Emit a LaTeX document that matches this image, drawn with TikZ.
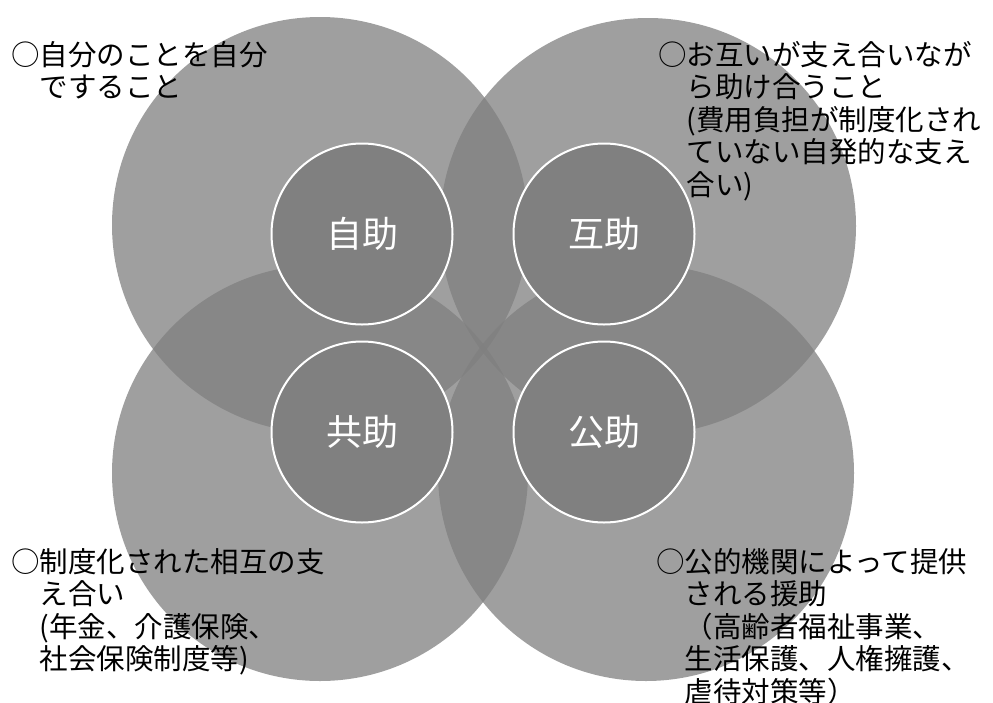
\documentclass[tikz,border=0pt]{standalone}
\usepackage{fontspec}
\newfontfamily\jp{Noto Sans CJK JP}
\definecolor{bigc}{HTML}{808080}
\definecolor{corec}{HTML}{808080}
\begin{document}
\begin{tikzpicture}[x=1pt,y=-1pt,
  big/.style={circle, minimum size=416pt, inner sep=0pt, fill=bigc, fill opacity=0.75, draw=none},
  core/.style={circle, fill=corec, draw=white, line width=2pt, minimum size=181pt, inner sep=0pt, text=white, font=\jp\fontsize{36}{40}\selectfont},
  desc/.style={anchor=north west, align=left, inner sep=0pt, text=black, font=\jp\fontsize{28.5}{32.5}\selectfont}]
\useasboundingbox[fill=white] (0,0) rectangle (993,702);
% large circles
\node[big] (c1) at (320,225) {};
\node[big] (c2) at (648,226) {};
\node[big] (c3) at (320,473) {};
\node[big] (c4) at (646,473) {};
% core circles
\node[core] (k1) at (362,234) {自助};
\node[core] (k2) at (604,234) {互助};
\node[core] (k3) at (362,432) {共助};
\node[core] (k4) at (604,432) {公助};
% descriptions
\node[desc] (d1) at (11,41) {○自分のことを自分\\\hspace*{1em}ですること};
\node[desc] (d2) at (658,41) {○お互いが支え合いなが\\\hspace*{1em}ら助け合うこと\\\hspace*{1em}(費用負担が制度化され\\\hspace*{1em}ていない自発的な支え\\\hspace*{1em}合い)};
\node[desc] (d3) at (11,548) {○制度化された相互の支\\\hspace*{1em}え合い\\\hspace*{1em}(年金、介護保険、\\\hspace*{1em}社会保険制度等)};
\node[desc] (d4) at (656,548) {○公的機関によって提供\\\hspace*{1em}される援助\\\hspace*{1em}（高齢者福祉事業、\\\hspace*{1em}生活保護、人権擁護、\\\hspace*{1em}虐待対策等）};
\end{tikzpicture}
\end{document}
